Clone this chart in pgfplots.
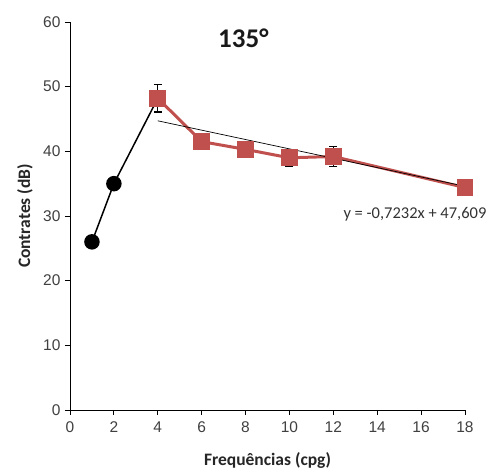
\documentclass[border=0pt]{standalone}
\usepackage{fontspec}
\setmainfont{Liberation Sans}
\newfontfamily\calibri{Carlito}
\usepackage{pgfplots}
\pgfplotsset{compat=1.18}
\usetikzlibrary{calc}
\definecolor{exred}{RGB}{192,80,77}
\begin{document}
\begin{tikzpicture}
\begin{axis}[
  scale only axis,
  width=395bp, height=388bp,
  xmin=0, xmax=18, ymin=0, ymax=60,
  xtick={0,2,...,18}, ytick={0,10,...,60},
  axis x line*=bottom, axis y line*=left,
  axis line style={line width=0.9bp, -},
  tick style={line width=0.9bp, black},
  tick align=outside, major tick length=5bp,
  ticklabel style={font=\fontsize{15.5bp}{17bp}\selectfont, text=black!75},
  xticklabel style={yshift=-3bp},
  yticklabel style={xshift=-1bp},
  /pgf/number format/assume math mode=true,
  xlabel={Frequências (cpg)},
  ylabel={Contrates (dB)},
  label style={font=\calibri\bfseries\fontsize{17.5bp}{20bp}\selectfont, text=black!85},
  xlabel style={at={(axis description cs:0.5,0)}, anchor=center, yshift=-50bp},
  ylabel style={at={(axis description cs:-0.114,0.5)}, anchor=center},
  clip=false,
]
% low-frequency measurements
\addplot[black, line width=1.5bp, mark=*, mark size=7bp]
  coordinates {(1,26.0) (2,35.0) (4,48.2)};
% higher-frequency measurements with error bars
\addplot[exred, line width=3bp, mark=square*, mark size=6.8bp,
  mark options={fill=exred, draw=exred},
  error bars/.cd, y dir=both, y explicit,
  error bar style={black, line width=1.3bp},
  error mark options={black, line width=1.3bp, rotate=90, mark size=4bp}]
  coordinates {
    (4,48.2)  +- (0,2.1)
    (6,41.5)  +- (0,0.6)
    (8,40.3)  +- (0,0.6)
    (10,39.0) +- (0,1.3)
    (12,39.2) +- (0,1.5)
    (18,34.4) +- (0,0.5)
  };
% linear fit over the higher frequencies
\addplot[black, line width=0.7bp, forget plot]
  coordinates {(4,44.72) (18,34.59)};
\node[font=\calibri\bfseries\fontsize{27bp}{30bp}\selectfont, text=black!90]
  at (axis cs:7.9,57.5) {135°};
\node[font=\calibri\fontsize{16.5bp}{19bp}\selectfont, text=black!80]
  at (axis cs:15.72,30.2) {y = -0,7232x + 47,609};
\coordinate (sw) at (rel axis cs:0,0);
\coordinate (ne) at (rel axis cs:1,1);
\end{axis}
\path[use as bounding box] ($(sw)+(-70bp,-60bp)$) rectangle ($(ne)+(28bp,22bp)$);
\end{tikzpicture}
\end{document}
